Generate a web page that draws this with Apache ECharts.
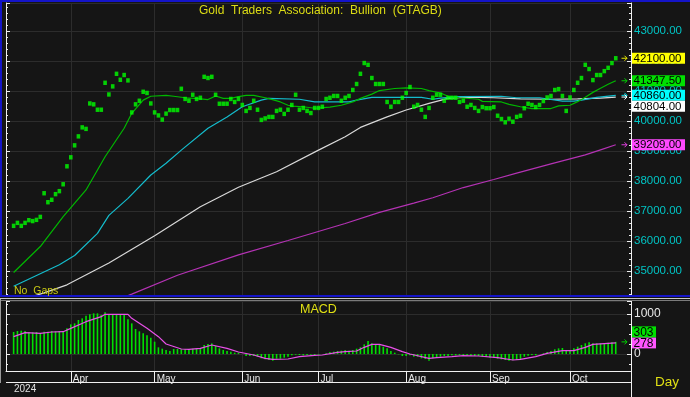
<!DOCTYPE html>
<html><head><meta charset="utf-8">
<script src="https://cdn.jsdelivr.net/npm/echarts@6/dist/echarts.min.js"></script>
<style>html,body{margin:0;padding:0;background:#151515;}#c{width:690px;height:397px;}</style>
</head><body><div id="c"></div>
<script>
// ---------- data ----------
const firstDay = '2024-03-11';
const leadSlots = 2, tailSlots = 4;
const monthNames = ['Jan','Feb','Mar','Apr','May','Jun','Jul','Aug','Sep','Oct','Nov','Dec'];
const prices = [
36500,36600,36500,36600,36690,36660,36700,36800,37590,37290,
37370,37560,37660,37890,38490,38790,39190,39490,39790,39740,
40590,40560,40380,40380,41280,40890,41160,41580,41380,41540,
41360,40290,40560,40680,40980,40940,40590,40290,40190,40050,
40250,40370,40370,40370,41080,40740,40680,40880,40740,40780,
41480,41440,41480,40880,40580,40580,40580,40740,40640,40740,
40540,40340,40440,40680,40380,40040,40090,40140,40140,40340,
40380,40240,40380,40540,40880,40380,40440,40340,40270,40440,
40440,40480,40740,40780,40840,40840,40680,40780,40840,41040,
41240,41580,41940,41880,41440,41240,41240,41240,40640,40480,
40640,40640,40780,40940,41140,40480,40540,40380,40140,40440,
40780,40880,40880,40680,40780,40780,40780,40640,40680,40480,
40540,40440,40340,40470,40430,40430,40470,40180,40070,39960,
40080,39980,40140,40180,40430,40580,40540,40470,40540,40670,
40790,40840,41040,41070,40840,40340,40790,41040,41280,41440,
41880,41740,41370,41540,41540,41670,41780,41940,42100];
// moving averages: [day index, value]
const greenMA = [[0,34940],[7,35810],[13,36810],[19,37700],[24,38810],[29,39760],[31,40260],[34,40700],[36,40830],[40,40860],[42,40830],[45,40780],[49,40740],[51,40720],[53,40840],[55,40760],[57,40760],[59,40820],[61,40860],[63,40860],[66,40780],[67,40750],[70,40640],[72,40530],[73,40500],[76,40480],[79,40430],[83,40470],[86,40530],[89,40640],[91,40760],[94,40900],[96,41020],[100,41090],[103,41110],[107,41090],[109,41020],[112,40940],[114,40830],[117,40780],[122,40730],[123,40660],[128,40640],[130,40560],[133,40480],[136,40420],[141,40420],[143,40510],[146,40530],[148,40650],[150,40800],[152,40960],[154,41100],[156,41230],[158,41347.5]];
const cyanMA = [[0,34480],[12,35200],[16,35510],[22,36250],[25,36850],[30,37420],[36,38200],[40,38590],[44,39030],[51,39760],[56,40140],[60,40480],[65,40700],[67,40760],[75,40730],[79,40640],[88,40640],[90,40700],[94,40790],[107,40790],[110,40730],[112,40770],[117,40820],[128,40830],[132,40780],[138,40780],[144,40670],[147,40670],[149,40700],[153,40790],[158,40860]];
const whiteMA = [[0,33950],[8,34260],[14,34530],[25,35260],[37,36170],[49,37140],[59,37790],[69,38310],[80,39030],[87,39480],[91,39790],[98,40140],[103,40370],[109,40590],[114,40760],[119,40800],[126,40780],[133,40740],[141,40730],[148,40740],[154,40770],[158,40804]];
const magentaMA = [[20,33650],[31,34220],[43,34850],[59,35530],[72,36010],[87,36580],[96,36950],[105,37260],[110,37440],[118,37780],[126,38050],[132,38260],[141,38570],[150,38870],[154,39040],[158,39209]];
const macdBars = [
550,575,583,575,550,541,550,516,558,558,
575,566,575,575,641,741,766,850,891,958,
991,1016,1016,975,1041,1000,1000,991,991,975,
866,766,625,566,516,466,408,308,167,133,
100,75,125,125,117,117,125,133,133,141,
225,250,267,200,141,100,75,58,33,33,
0,-50,-50,-50,-67,-108,-133,-150,-167,-117,
-117,-92,-67,-33,-17,-25,-33,-25,-17,-25,
-17,0,17,50,58,75,83,100,83,100,
133,167,241,325,267,250,225,183,141,75,
33,-8,-50,-50,-33,-67,-67,-108,-125,-167,
-108,-100,-67,-50,-50,-33,-33,-25,-33,-33,
-42,-50,-50,-67,-75,-92,-92,-117,-133,-150,
-167,-158,-142,-125,-67,-42,-25,-33,0,17,
50,75,117,141,150,83,100,141,183,225,
267,291,267,267,267,267,283,291,303];
const macdSignal = [[0,433],[3,533],[7,516],[10,550],[13,558],[15,641],[19,808],[23,933],[24,991],[30,991],[31,891],[35,641],[38,433],[40,250],[44,125],[46,117],[49,141],[52,225],[56,141],[59,50],[63,-25],[66,-108],[68,-133],[72,-125],[75,-67],[79,-33],[81,-25],[85,42],[87,58],[90,75],[92,167],[94,241],[96,241],[99,167],[102,58],[104,0],[109,-108],[111,-92],[115,-67],[118,-42],[122,-50],[127,-92],[131,-150],[133,-133],[137,-67],[140,17],[144,83],[147,83],[150,167],[152,241],[158,278]];
const mainLast = [
  {v:42100, bg:'#ffff00', arrow:'#e8e800'},
  {v:41347.5, bg:'#00e000', arrow:'#00d000'},
  {v:40860, bg:'#00ffff', arrow:'#00e0e8'},
  {v:40804, bg:'#ffffff', arrow:'#ffffff'},
  {v:39209, bg:'#ff48ff', arrow:'#e040e0'}];
const macdLast = [{v:278, bg:'#ff55ff'}, {v:303, bg:'#00e000', arrow:'#00d000'}];

// ---------- categories ----------
function tradingDays(start, n){
  const out=[]; const d=new Date(start+'T00:00:00Z');
  while(out.length<n){const wd=d.getUTCDay(); if(wd!==0&&wd!==6) out.push(d.toISOString().slice(0,10)); d.setUTCDate(d.getUTCDate()+1);}
  return out;
}
const days = tradingDays(firstDay, prices.length);
const categories = [].concat(Array(leadSlots).fill(''), days, Array(tailSlots).fill(''));
function isMonthStart(i){
  const c = categories[i];
  if(!c || i<=leadSlots) return false;
  return c.slice(5,7) !== categories[i-1].slice(5,7);
}
const shift = arr => arr.map(p => [p[0]+leadSlots, p[1]]);
const pad = arr => [].concat(Array(leadSlots).fill(null), arr);

const FONT = "'Liberation Sans', Arial, sans-serif";
const GRID = '#2c2c2c';
const chart = echarts.init(document.getElementById('c'), null, {renderer:'canvas'});

const xBase = {type:'category', data:categories, boundaryGap:false,
  splitLine:{show:true, interval:isMonthStart, lineStyle:{color:GRID, width:1}}};

const option = {
  backgroundColor:'#151515',
  animation:false,
  grid:[
    {left:6, top:3, width:625, height:292},
    {left:6, top:301, width:625, height:70}
  ],
  xAxis:[
    Object.assign({}, xBase, {gridIndex:0, axisLine:{show:false, onZero:false}, axisTick:{show:false}, axisLabel:{show:false}}),
    Object.assign({}, xBase, {gridIndex:1, position:'bottom',
      axisLine:{show:true, onZero:false, lineStyle:{color:'#f0f0f0', width:1}},
      axisTick:{show:true, interval:isMonthStart, length:11, lineStyle:{color:'#f0f0f0'}},
      axisLabel:{show:true, interval:isMonthStart, formatter:v=>monthNames[+v.slice(5,7)-1],
        align:'left', margin:3, color:'#e8e8e8', fontSize:10, fontFamily:FONT, padding:[0,0,0,2]}})
  ],
  yAxis:[
    {type:'value', gridIndex:0, position:'right', min:34190, max:43946, splitNumber:10,
      axisLine:{show:true, lineStyle:{color:'#f0f0f0'}},
      axisTick:{show:true, inside:true, length:4, lineStyle:{color:'#f0f0f0'}},
      minorTick:{show:true, splitNumber:5, length:2, lineStyle:{color:'#f0f0f0'}},
      axisLabel:{color:'#00c4c4', fontSize:11.5, fontFamily:FONT, margin:3, formatter:v=>v.toFixed(2), showMinLabel:false, showMaxLabel:false},
      splitLine:{show:true, lineStyle:{color:GRID}}},
    {type:'value', gridIndex:0, position:'left', min:34190, max:43946, splitNumber:10,
      axisLine:{show:true, lineStyle:{color:'#f0f0f0'}},
      axisTick:{show:true, inside:true, length:4, lineStyle:{color:'#f0f0f0'}},
      minorTick:{show:true, splitNumber:5, length:2, lineStyle:{color:'#f0f0f0'}},
      axisLabel:{show:false}, splitLine:{show:false}},
    {type:'value', gridIndex:1, position:'right', min:-425, max:1325, splitNumber:2,
      axisLine:{show:true, lineStyle:{color:'#f0f0f0'}},
      axisTick:{show:true, inside:true, length:4, lineStyle:{color:'#f0f0f0'}},
      minorTick:{show:true, splitNumber:4, length:2, lineStyle:{color:'#f0f0f0'}},
      axisLabel:{color:'#e8e8e8', fontSize:12, fontFamily:FONT, margin:3, formatter:v=>String(v), showMinLabel:false, showMaxLabel:false},
      splitLine:{show:true, lineStyle:{color:GRID}}},
    {type:'value', gridIndex:1, position:'left', min:-425, max:1325, splitNumber:2,
      axisLine:{show:true, lineStyle:{color:'#f0f0f0'}},
      axisTick:{show:true, inside:true, length:4, lineStyle:{color:'#f0f0f0'}},
      minorTick:{show:true, splitNumber:4, length:2, lineStyle:{color:'#f0f0f0'}},
      axisLabel:{show:false}, splitLine:{show:false}}
  ],
  series:[
    {type:'line', xAxisIndex:0, yAxisIndex:0, data:shift(magentaMA), symbol:'none', lineStyle:{color:'#b432b4', width:1.2}, clip:true, z:3},
    {type:'line', xAxisIndex:0, yAxisIndex:0, data:shift(whiteMA), symbol:'none', lineStyle:{color:'#d8d8d8', width:1.2}, clip:true, z:3},
    {type:'line', xAxisIndex:0, yAxisIndex:0, data:shift(cyanMA), symbol:'none', lineStyle:{color:'#14bccc', width:1.2}, clip:true, z:3},
    {type:'line', xAxisIndex:0, yAxisIndex:0, data:shift(greenMA), symbol:'none', lineStyle:{color:'#00b800', width:1.2}, clip:true, z:3},
    {type:'scatter', xAxisIndex:0, yAxisIndex:0, data:pad(prices), symbol:'rect', symbolSize:[3.6,4.4], itemStyle:{color:'#00ff00'}, z:4},
    {type:'bar', xAxisIndex:1, yAxisIndex:2, data:pad(macdBars), barWidth:1.6, itemStyle:{color:'#00e000'}, z:3},
    {type:'line', xAxisIndex:1, yAxisIndex:2, data:shift(macdSignal), symbol:'none', lineStyle:{color:'#e850e8', width:1.2}, z:4}
  ]
};
chart.setOption(option);

// ---------- overlay graphics ----------
const G = [];
const txt = (x,y,s,fill,size,align) => G.push({type:'text', z:100, style:{text:s, x:x, y:y, fill:fill, font:size+'px '+FONT, textAlign:align||'left', textVerticalAlign:'middle', verticalAlign:'middle'}});
const line = (x1,y1,x2,y2,c,w) => G.push({type:'line', z:100, shape:{x1,y1,x2,y2}, style:{stroke:c, lineWidth:w||1}});
const arrow = (y,c) => {
  G.push({type:'polyline', z:100, shape:{points:[[621.5,y],[627,y]]}, style:{stroke:c, lineWidth:1}});
  G.push({type:'polyline', z:100, shape:{points:[[624.5,y-2.5],[627,y],[624.5,y+2.5]]}, style:{stroke:c, lineWidth:1, fill:null}});
};
const tagBox = (y,w,bg,s,size) => {
  G.push({type:'rect', z:101, shape:{x:632, y:y-5.5, width:w, height:11}, style:{fill:bg}});
  G.push({type:'text', z:102, style:{text:s, x:633.5, y:y+0.5, fill:'#000', font:size+'px '+FONT, textVerticalAlign:'middle', verticalAlign:'middle'}});
};

// frames
line(0,1,690,1,'#1414c8',2);
line(1,0,1,297,'#1414c8',2);
line(0,296,690,296,'#1414c8',2);
line(0,298.5,690,298.5,'#c8c8c8',1);
line(0,300.5,690,300.5,'#7a7a7a',1);
line(0.5,299,0.5,383,'#9a9a9a',1);
line(631.5,301,631.5,397,'#f0f0f0',1);
line(6,382.5,631,382.5,'#f0f0f0',1);

// texts
txt(199,10.5,'Gold  Traders  Association:  Bullion  (GTAGB)','#dcdc14',12);
txt(14,291,'No  Gaps','#c8c814',10.5);
txt(300,310,'MACD','#e0e014',12.5);
txt(655,382,'Day','#e0e014',13.5);
txt(14,389.5,'2024','#e0e0e0',10);

// last-value tags (main)
let prevY = -1e9;
mainLast.forEach(t => {
  const y = chart.convertToPixel({yAxisIndex:0}, t.v);
  arrow(y, t.arrow);
  const yc = Math.max(y, prevY + 11);
  tagBox(yc, 53, t.bg, t.v.toFixed(2), 11.5);
  prevY = yc;
});
// last-value tags (MACD): lower one stays, upper one pushed up
let lowY = null;
macdLast.forEach(t => {
  const y = chart.convertToPixel({yAxisIndex:2}, t.v);
  if(t.arrow) arrow(y, t.arrow);
  const yc = lowY === null ? y : Math.min(y, lowY - 11);
  tagBox(yc, 24, t.bg, String(t.v), 12);
  lowY = yc;
});
chart.setOption({graphic: G});
</script>
</body></html>
